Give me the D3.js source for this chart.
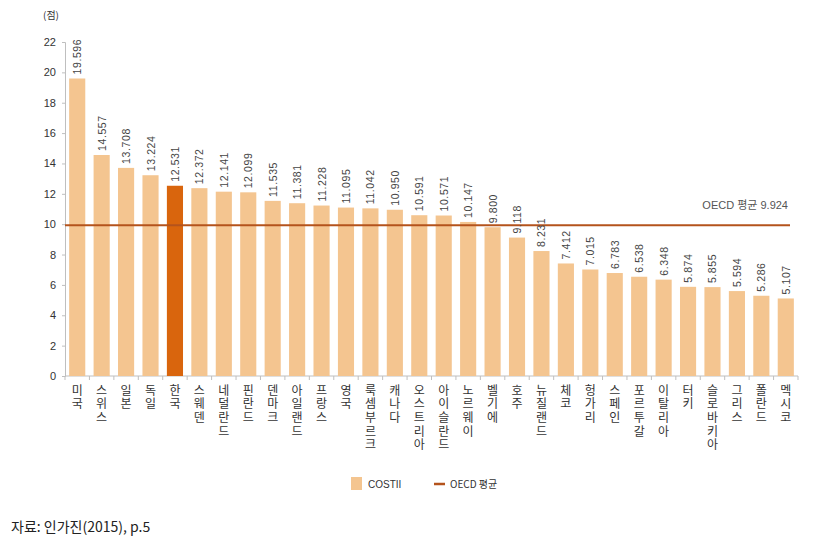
<!DOCTYPE html>
<html><head><meta charset="utf-8">
<script src="https://cdn.jsdelivr.net/npm/d3@7"></script>
<style>body{margin:0;background:#fff;font-family:"Liberation Sans",Arial,sans-serif}</style>
</head><body>
<svg id="c" width="840" height="550"></svg>
<script>
const categories = ["미국","스위스","일본","독일","한국","스웨덴","네덜란드","핀란드","덴마크","아일랜드","프랑스","영국","룩셈부르크","캐나다","오스트리아","아이슬란드","노르웨이","벨기에","호주","뉴질랜드","체코","헝가리","스페인","포르투갈","이탈리아","터키","슬로바키아","그리스","폴란드","멕시코"];
const values = [19.596,14.557,13.708,13.224,12.531,12.372,12.141,12.099,11.535,11.381,11.228,11.095,11.042,10.950,10.591,10.571,10.147,9.800,9.118,8.231,7.412,7.015,6.783,6.538,6.348,5.874,5.855,5.594,5.286,5.107];
const yTicks = [0,2,4,6,8,10,12,14,16,18,20,22];
const oecdAvg = 9.924;
const highlight = "한국";

const svg = d3.select("#c");
const x0 = 65, x1 = 798, yTop = 42, yBot = 376;
const x = d3.scaleBand().domain(categories).range([x0, x1]).paddingInner(0.34).paddingOuter(0.17);
const y = d3.scaleLinear().domain([0, 22]).range([yBot, yTop]);

// y axis
const ya = svg.append("g").attr("transform", `translate(${x0},0)`)
  .call(d3.axisLeft(y).tickValues(yTicks).tickSize(3).tickPadding(6));
ya.select(".domain").attr("stroke", "#bfbfbf");
ya.selectAll(".tick line").attr("stroke", "#bfbfbf");
ya.selectAll(".tick text").attr("font-size", 11).attr("fill", "#333").attr("font-family", "Liberation Sans, Arial");

// x axis baseline with ticks at boundaries
svg.append("line").attr("x1", x0).attr("x2", x1).attr("y1", yBot).attr("y2", yBot).attr("stroke", "#bfbfbf");
const bounds = d3.range(categories.length + 1).map(i => x0 + i * (x1 - x0) / categories.length);
svg.selectAll(".bt").data(bounds).join("line").attr("x1", d => d).attr("x2", d => d)
  .attr("y1", yBot).attr("y2", yBot + 4).attr("stroke", "#bfbfbf");

// bars
svg.selectAll(".bar").data(categories).join("rect")
  .attr("x", d => x(d)).attr("width", x.bandwidth())
  .attr("y", (d, i) => y(values[i])).attr("height", (d, i) => yBot - y(values[i]))
  .attr("fill", d => d === highlight ? "#d9650d" : "#f4c590");

// OECD line
svg.append("line").attr("x1", x0).attr("x2", 790).attr("y1", y(oecdAvg)).attr("y2", y(oecdAvg))
  .attr("stroke", "#b4531c").attr("stroke-width", 2);
svg.append("text").attr("x", 788).attr("y", y(oecdAvg) - 16).attr("text-anchor", "end")
  .attr("font-size", 11).attr("fill", "#555").attr("font-family", "Liberation Sans, Noto Sans CJK KR")
  .text("OECD 평균 " + oecdAvg.toFixed(3));

// value labels
svg.selectAll(".vl").data(categories).join("text")
  .attr("transform", (d, i) => `translate(${x(d) + x.bandwidth() / 2 + 4},${y(values[i]) - 4}) rotate(-90)`)
  .attr("font-size", 10.5).attr("letter-spacing", 0.6).attr("fill", "#444")
  .text((d, i) => values[i].toFixed(3));

// category labels (vertical, upright characters)
svg.selectAll(".cl").data(categories).join("text")
  .attr("x", d => x(d) + x.bandwidth() / 2).attr("y", 384)
  .attr("writing-mode", "vertical-rl")
  .style("text-orientation", "upright")
  .attr("letter-spacing", 1.7)
  .attr("font-size", 12).attr("fill", "#333").attr("font-family", "Noto Sans CJK KR")
  .text(d => d);

// unit
svg.append("text").attr("x", 43).attr("y", 19).attr("font-size", 10).attr("fill", "#333")
  .attr("font-family", "Noto Sans CJK KR").text("(점)");

// legend
svg.append("rect").attr("x", 351).attr("y", 477).attr("width", 11).attr("height", 13).attr("fill", "#f4c590");
svg.append("text").attr("x", 368).attr("y", 488).attr("font-size", 10).attr("fill", "#333").text("COSTII");
svg.append("line").attr("x1", 434).attr("x2", 445).attr("y1", 484).attr("y2", 484).attr("stroke", "#b4531c").attr("stroke-width", 2.5);
svg.append("text").attr("x", 450).attr("y", 488).attr("font-size", 10).attr("fill", "#333")
  .attr("font-family", "Noto Sans CJK KR").text("OECD 평균");

// source
svg.append("text").attr("x", 11).attr("y", 532).attr("font-size", 14).attr("fill", "#222")
  .attr("font-family", "Noto Sans CJK KR").text("자료: 인가진(2015), p.5");
</script>
</body></html>
